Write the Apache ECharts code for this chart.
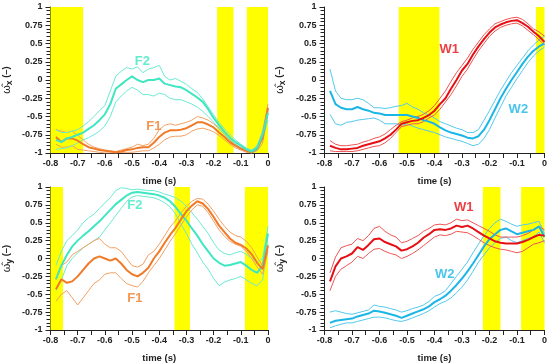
<!DOCTYPE html>
<html><head><meta charset="utf-8">
<script src="https://cdn.jsdelivr.net/npm/echarts@6/dist/echarts.min.js"></script>
<style>html,body{margin:0;padding:0;background:#fff}#c{width:550px;height:364px}</style>
</head><body><div id="c"></div>
<script>
const T = [-0.78,-0.76,-0.74,-0.72,-0.70,-0.68,-0.66,-0.64,-0.62,-0.60,-0.58,-0.56,-0.54,-0.52,-0.50,-0.48,-0.46,-0.44,-0.42,-0.40,-0.38,-0.36,-0.34,-0.32,-0.30,-0.28,-0.26,-0.24,-0.22,-0.20,-0.18,-0.16,-0.14,-0.12,-0.10,-0.08,-0.06,-0.04,-0.02,0];
const xTicks = [-0.8,-0.7,-0.6,-0.5,-0.4,-0.3,-0.2,-0.1,0];
const yTicks = [-1,-0.75,-0.5,-0.25,0,0.25,0.5,0.75,1];

// Panel 1: omega_x, F1/F2
const p1F2 = [-0.82,-0.85,-0.8,-0.78,-0.75,-0.72,-0.67,-0.62,-0.55,-0.47,-0.33,-0.12,-0.06,0.0,0.05,0.0,-0.03,0.0,0.0,0.02,-0.05,-0.07,-0.09,-0.1,-0.14,-0.19,-0.24,-0.3,-0.4,-0.52,-0.62,-0.71,-0.79,-0.85,-0.9,-0.95,-0.98,-0.93,-0.75,-0.45];
const p1F2up = [-0.68,-0.72,-0.72,-0.7,-0.68,-0.63,-0.57,-0.5,-0.42,-0.35,-0.15,0.05,0.12,0.17,0.15,0.18,0.1,0.15,0.17,0.2,0.05,0.0,0.02,-0.02,-0.06,-0.12,-0.17,-0.26,-0.37,-0.48,-0.58,-0.67,-0.75,-0.82,-0.88,-0.93,-0.96,-0.9,-0.72,-0.42];
const p1F2lo = [-0.95,-0.94,-0.93,-0.9,-0.86,-0.82,-0.79,-0.75,-0.7,-0.63,-0.5,-0.3,-0.22,-0.15,-0.1,-0.14,-0.2,-0.2,-0.22,-0.18,-0.2,-0.25,-0.27,-0.27,-0.3,-0.33,-0.37,-0.43,-0.5,-0.58,-0.66,-0.75,-0.82,-0.88,-0.93,-0.97,-1.0,-0.96,-0.8,-0.55];
const p1F1 = [-0.78,-0.85,-0.8,-0.8,-0.83,-0.88,-0.92,-0.94,-0.96,-0.97,-0.98,-0.99,-0.98,-0.96,-0.95,-0.93,-0.92,-0.92,-0.86,-0.78,-0.72,-0.69,-0.69,-0.68,-0.66,-0.62,-0.58,-0.58,-0.61,-0.65,-0.72,-0.78,-0.85,-0.9,-0.94,-0.97,-0.99,-0.94,-0.8,-0.38];
const p1F1up = [-0.68,-0.7,-0.72,-0.7,-0.76,-0.82,-0.88,-0.92,-0.94,-0.96,-0.97,-0.98,-0.96,-0.94,-0.92,-0.88,-0.9,-0.88,-0.8,-0.68,-0.62,-0.6,-0.62,-0.6,-0.58,-0.55,-0.5,-0.52,-0.55,-0.6,-0.67,-0.74,-0.82,-0.88,-0.93,-0.96,-0.98,-0.91,-0.7,-0.33];
const p1F1lo = [-0.88,-0.92,-0.92,-0.9,-0.95,-0.96,-0.97,-0.98,-0.99,-1.0,-1.0,-1.0,-0.99,-0.99,-0.99,-0.98,-0.97,-0.97,-0.93,-0.88,-0.82,-0.78,-0.77,-0.77,-0.75,-0.7,-0.67,-0.66,-0.68,-0.71,-0.76,-0.82,-0.88,-0.93,-0.96,-0.99,-1.0,-0.97,-0.87,-0.45];

// Panel 2: omega_x, W1/W2
const p2W1 = [-0.9,-0.93,-0.95,-0.95,-0.94,-0.93,-0.9,-0.88,-0.86,-0.84,-0.8,-0.75,-0.68,-0.6,-0.58,-0.56,-0.55,-0.52,-0.48,-0.42,-0.33,-0.25,-0.12,0.0,0.13,0.22,0.35,0.46,0.56,0.65,0.72,0.76,0.79,0.81,0.82,0.78,0.73,0.66,0.6,0.52];
const p2W1up = [-0.83,-0.88,-0.9,-0.9,-0.89,-0.88,-0.85,-0.83,-0.8,-0.78,-0.74,-0.68,-0.62,-0.57,-0.55,-0.52,-0.5,-0.47,-0.42,-0.35,-0.25,-0.15,-0.02,0.1,0.2,0.3,0.42,0.52,0.62,0.7,0.77,0.8,0.83,0.85,0.86,0.83,0.77,0.7,0.66,0.6];
const p2W1lo = [-0.97,-0.98,-0.98,-0.98,-0.98,-0.97,-0.95,-0.93,-0.91,-0.9,-0.86,-0.8,-0.72,-0.64,-0.62,-0.6,-0.6,-0.57,-0.52,-0.48,-0.4,-0.3,-0.2,-0.08,0.05,0.15,0.28,0.4,0.5,0.6,0.67,0.72,0.75,0.77,0.78,0.74,0.68,0.62,0.55,0.48];
const p2W2 = [-0.15,-0.33,-0.38,-0.4,-0.4,-0.37,-0.4,-0.42,-0.45,-0.46,-0.48,-0.48,-0.48,-0.48,-0.48,-0.5,-0.52,-0.55,-0.57,-0.6,-0.65,-0.69,-0.72,-0.74,-0.76,-0.79,-0.8,-0.77,-0.68,-0.55,-0.4,-0.25,-0.12,0.0,0.11,0.22,0.32,0.4,0.46,0.5];
const p2W2up = [0.15,-0.15,-0.25,-0.27,-0.27,-0.25,-0.27,-0.32,-0.38,-0.38,-0.39,-0.38,-0.36,-0.35,-0.32,-0.37,-0.4,-0.45,-0.48,-0.52,-0.57,-0.6,-0.63,-0.66,-0.68,-0.72,-0.72,-0.68,-0.55,-0.42,-0.28,-0.14,-0.02,0.1,0.2,0.3,0.4,0.48,0.55,0.6];
const p2W2lo = [-0.47,-0.6,-0.62,-0.58,-0.57,-0.55,-0.54,-0.53,-0.52,-0.55,-0.6,-0.6,-0.6,-0.62,-0.6,-0.63,-0.66,-0.68,-0.7,-0.72,-0.75,-0.78,-0.8,-0.82,-0.84,-0.87,-0.9,-0.88,-0.8,-0.68,-0.52,-0.37,-0.22,-0.1,0.02,0.13,0.24,0.33,0.4,0.45];

// Panel 3: omega_y, F1/F2
const p3F2 = [-0.29,-0.1,0.05,0.17,0.25,0.32,0.38,0.45,0.52,0.6,0.68,0.76,0.82,0.88,0.92,0.93,0.92,0.91,0.9,0.88,0.85,0.8,0.72,0.62,0.53,0.42,0.32,0.2,0.1,0.0,-0.06,-0.1,-0.09,-0.07,-0.05,-0.1,-0.16,-0.2,-0.1,0.35];
const p3F2up = [-0.1,0.1,0.25,0.32,0.4,0.5,0.57,0.62,0.7,0.78,0.85,0.95,0.99,0.98,0.96,0.97,0.96,0.95,0.95,0.93,0.9,0.88,0.85,0.8,0.73,0.64,0.55,0.45,0.35,0.22,0.12,0.07,0.05,0.08,0.1,0.06,0.0,-0.05,0.0,0.45];
const p3F2lo = [-0.45,-0.3,-0.1,0.0,0.08,0.15,0.2,0.25,0.3,0.4,0.5,0.6,0.7,0.8,0.86,0.88,0.87,0.86,0.85,0.82,0.78,0.72,0.62,0.48,0.35,0.2,0.08,-0.05,-0.15,-0.28,-0.38,-0.33,-0.3,-0.28,-0.25,-0.3,-0.35,-0.38,-0.3,0.2];
const p3F1 = [-0.43,-0.29,-0.34,-0.32,-0.25,-0.16,-0.07,0.0,0.03,0.0,-0.03,0.0,-0.07,-0.16,-0.22,-0.25,-0.2,-0.13,0.0,0.1,0.22,0.33,0.43,0.55,0.66,0.74,0.8,0.77,0.69,0.58,0.46,0.37,0.28,0.22,0.19,0.14,0.06,-0.06,-0.15,0.18];
const p3F1up = [-0.3,-0.1,-0.05,0.05,0.1,0.15,0.2,0.25,0.28,0.2,0.15,0.15,0.1,0.0,-0.1,-0.12,-0.08,0.05,0.1,0.2,0.32,0.44,0.53,0.64,0.73,0.8,0.84,0.83,0.76,0.66,0.55,0.45,0.37,0.32,0.3,0.24,0.15,0.02,-0.1,0.18];
const p3F1lo = [-0.6,-0.5,-0.45,-0.55,-0.65,-0.55,-0.45,-0.35,-0.3,-0.22,-0.2,-0.2,-0.28,-0.35,-0.38,-0.4,-0.32,-0.2,-0.1,0.0,0.12,0.24,0.35,0.47,0.58,0.68,0.75,0.73,0.64,0.52,0.4,0.31,0.24,0.2,0.17,0.1,0.0,-0.12,-0.22,0.1];

// Panel 4: omega_y, W1/W2
const p4W1 = [-0.32,-0.11,0.0,0.03,0.07,0.16,0.12,0.19,0.27,0.28,0.23,0.2,0.17,0.11,0.13,0.17,0.22,0.29,0.34,0.4,0.41,0.4,0.42,0.46,0.44,0.46,0.42,0.37,0.32,0.28,0.24,0.22,0.21,0.21,0.21,0.23,0.26,0.3,0.33,0.32];
const p4W1up = [-0.2,0.02,0.15,0.18,0.2,0.28,0.25,0.32,0.42,0.45,0.38,0.33,0.3,0.22,0.24,0.28,0.32,0.38,0.42,0.47,0.48,0.47,0.5,0.55,0.53,0.54,0.5,0.46,0.42,0.38,0.33,0.3,0.3,0.3,0.3,0.32,0.35,0.4,0.45,0.4];
const p4W1lo = [-0.45,-0.25,-0.15,-0.1,-0.05,0.03,0.0,0.07,0.13,0.14,0.1,0.07,0.05,0.0,0.03,0.07,0.12,0.18,0.24,0.3,0.33,0.32,0.34,0.38,0.37,0.36,0.32,0.27,0.22,0.18,0.15,0.13,0.12,0.1,0.08,0.1,0.15,0.2,0.22,0.25];
const p4W2 = [-0.9,-0.87,-0.86,-0.85,-0.84,-0.81,-0.79,-0.77,-0.73,-0.74,-0.76,-0.78,-0.8,-0.83,-0.8,-0.77,-0.74,-0.71,-0.67,-0.61,-0.57,-0.52,-0.45,-0.37,-0.28,-0.18,-0.07,0.05,0.17,0.27,0.34,0.4,0.42,0.38,0.34,0.36,0.38,0.4,0.45,0.3];
const p4W2up = [-0.75,-0.73,-0.75,-0.77,-0.78,-0.76,-0.74,-0.72,-0.65,-0.67,-0.68,-0.7,-0.72,-0.75,-0.73,-0.7,-0.68,-0.65,-0.6,-0.53,-0.5,-0.45,-0.35,-0.25,-0.15,-0.05,0.08,0.2,0.32,0.42,0.5,0.55,0.52,0.48,0.45,0.47,0.48,0.5,0.52,0.35];
const p4W2lo = [-0.97,-0.94,-0.92,-0.9,-0.9,-0.88,-0.86,-0.84,-0.82,-0.82,-0.83,-0.85,-0.87,-0.88,-0.86,-0.83,-0.8,-0.77,-0.73,-0.68,-0.63,-0.6,-0.55,-0.48,-0.4,-0.3,-0.18,-0.05,0.05,0.15,0.22,0.28,0.3,0.25,0.22,0.25,0.28,0.3,0.37,0.22];

// Yellow shaded intervals [start, end] in s
const bands1 = [[-0.8,-0.68],[-0.187,-0.127],[-0.078,0]];
const bands2 = [[-0.53,-0.382],[-0.031,0]];
const bands3 = [[-0.8,-0.754],[-0.344,-0.287],[-0.085,0]];
const bands4 = [[-0.224,-0.16],[-0.085,0]];

// Curve labels: name, t, value
const labels1 = [['F2',-0.462,0.26],['F1',-0.42,-0.64]];
const labels2 = [['W1',-0.346,0.42],['W2',-0.095,-0.4]];
const labels3 = [['F2',-0.49,0.74],['F1',-0.49,-0.56]];
const labels4 = [['W1',-0.294,0.72],['W2',-0.363,-0.22]];

const C = {
  F2: ['#3FE6C2','#6AEBD2'],
  F1: ['#F07A28','#F4A062'],
  W1: ['#E60F14','#EE5555'],
  W2: ['#1CB6E6','#52C9EF']
};
const FONT = 'Liberation Sans, Arial, sans-serif';

const grids = [
  {left:47, top:7, width:221, height:146},
  {left:324.5, top:7, width:221, height:146},
  {left:47, top:187, width:221, height:146},
  {left:324.5, top:187, width:221, height:146}
];
const yNames = ['x','x','y','y'];

const xAxes = grids.map((g,i)=>({
  type:'value', gridIndex:i, min:-0.8, max:0, interval:0.1,
  name:'time (s)', nameLocation:'middle', nameGap:23,
  nameTextStyle:{fontFamily:FONT, fontWeight:'bold', fontSize:9.5, color:'#222'},
  axisLine:{show:true, onZero:false, lineStyle:{color:'#222', width:1}},
  axisTick:{show:true, length:5, lineStyle:{color:'#222'}},
  minorTick:{show:true, splitNumber:2, length:5, lineStyle:{color:'#222'}},
  splitLine:{show:false},
  axisLabel:{fontFamily:FONT, fontWeight:'bold', fontSize:9, color:'#222', margin:6,
    formatter:v=>{const r=Math.round(v*10)/10; return r===0?'0':String(r);}}
}));
const yAxes = grids.map((g,i)=>({
  type:'value', gridIndex:i, min:-1, max:1, interval:0.25,
  name:'{w|ω̂}{s|'+yNames[i]+'}{n| (–)}', nameLocation:'middle', nameRotate:90, nameGap: i%2===0?36:37,
  nameTextStyle:{fontFamily:FONT, color:'#222',
    rich:{
      w:{fontFamily:FONT, fontSize:11, color:'#222', lineHeight:16, verticalAlign:'middle'},
      s:{fontFamily:FONT, fontSize:8.5, fontWeight:'bold', color:'#222', lineHeight:9, verticalAlign:'bottom'},
      n:{fontFamily:FONT, fontSize:9.5, fontWeight:'bold', color:'#222', lineHeight:16, verticalAlign:'middle'}
    }},
  axisLine:{show:true, onZero:false, lineStyle:{color:'#222', width:1}},
  axisTick:{show:true, length:5, lineStyle:{color:'#222'}},
  minorTick:{show:true, splitNumber:5, length:4, lineStyle:{color:'#222'}},
  splitLine:{show:false},
  axisLabel:{fontFamily:FONT, fontWeight:'bold', fontSize:9, color:'#222', margin:8,
    formatter:v=>{const r=Math.round(v*100)/100; return r===0?'0':String(r);}}
}));

function bandSeries(gi, bands){
  return {type:'custom', xAxisIndex:gi, yAxisIndex:gi, z:1, silent:true,
    data: bands,
    renderItem:(params, api)=>{
      const p0 = api.coord([api.value(0), 1]);
      const p1 = api.coord([api.value(1), -1]);
      return {type:'rect', shape:{x:p0[0], y:p0[1], width:p1[0]-p0[0], height:p1[1]-p0[1]},
        style:{fill:'#FFFF00'}};
    }};
}
function lineSeries(gi, vals, color, width, z){
  return {type:'line', xAxisIndex:gi, yAxisIndex:gi, z:z, silent:true,
    data: T.map((t,k)=>[t, vals[k]]), symbol:'none', smooth:false,
    lineStyle:{color:color, width:width}};
}
function labelSeries(gi, labs){
  return {type:'scatter', xAxisIndex:gi, yAxisIndex:gi, z:10, silent:true, symbolSize:1,
    itemStyle:{color:'rgba(0,0,0,0)'},
    data: labs.map(l=>({name:l[0], value:[l[1], l[2]],
      label:{show:true, position:'inside', formatter:l[0], color:C[l[0]][0],
        fontFamily:FONT, fontWeight:'bold', fontSize:13}}))};
}
function group(gi, key, mean, up, lo){
  return [
    lineSeries(gi, up, C[key][1], 1, 3),
    lineSeries(gi, lo, C[key][1], 1, 3),
    lineSeries(gi, mean, C[key][0], 2, 4)
  ];
}

const series = [].concat(
  bandSeries(0, bands1), bandSeries(1, bands2), bandSeries(2, bands3), bandSeries(3, bands4),
  group(0,'F1',p1F1,p1F1up,p1F1lo), group(0,'F2',p1F2,p1F2up,p1F2lo),
  group(1,'W2',p2W2,p2W2up,p2W2lo), group(1,'W1',p2W1,p2W1up,p2W1lo),
  group(2,'F2',p3F2,p3F2up,p3F2lo), group(2,'F1',p3F1,p3F1up,p3F1lo),
  group(3,'W2',p4W2,p4W2up,p4W2lo), group(3,'W1',p4W1,p4W1up,p4W1lo),
  labelSeries(0,labels1), labelSeries(1,labels2), labelSeries(2,labels3), labelSeries(3,labels4)
);

const chart = echarts.init(document.getElementById('c'), null, {renderer:'canvas'});
chart.setOption({
  animation:false,
  backgroundColor:'#fff',
  grid: grids,
  xAxis: xAxes,
  yAxis: yAxes,
  series: series
});
</script>
</body></html>
